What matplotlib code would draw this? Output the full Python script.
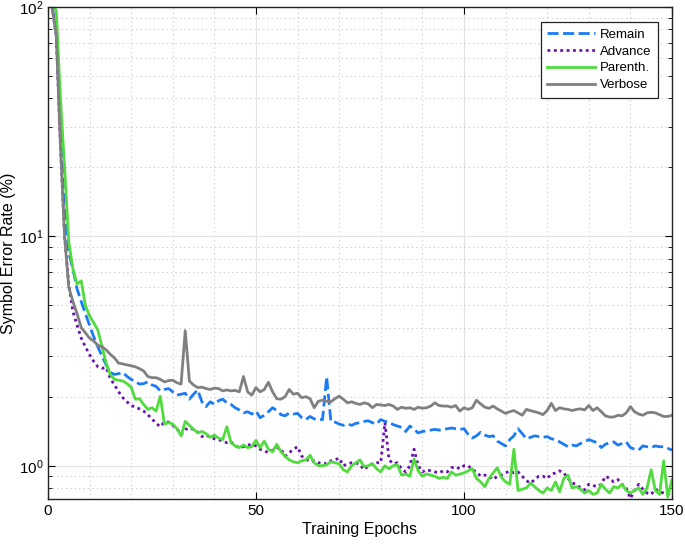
import numpy as np
import matplotlib
matplotlib.use("Agg")
import matplotlib.pyplot as plt
from matplotlib.ticker import MultipleLocator, LogLocator, NullFormatter

plt.rcParams['font.family'] = ['Liberation Sans', 'DejaVu Sans']

epochs = list(range(1, 151))

remain = [
    100, 80, 30, 13, 8.5, 7.2, 5.9, 5.2, 4.6, 4.1,
    3.65, 3.3, 3.0, 2.75, 2.55, 2.5, 2.52, 2.55, 2.45, 2.38,
    2.33, 2.27, 2.28, 2.32, 2.25, 2.22, 2.12, 2.15, 2.17, 2.1,
    2.03, 2.05, 2.07, 1.95, 2.05, 2.14, 1.9, 1.81, 1.9, 1.85,
    1.92, 1.95, 1.88, 1.85, 1.79, 1.75, 1.7, 1.72, 1.68, 1.73,
    1.62, 1.66, 1.72, 1.79, 1.74, 1.67, 1.65, 1.7, 1.68, 1.69,
    1.62, 1.59, 1.64, 1.6, 1.59, 1.59, 2.44, 1.56, 1.55, 1.52,
    1.5, 1.52, 1.5, 1.53, 1.54, 1.56, 1.57, 1.54, 1.52, 1.59,
    1.56, 1.55, 1.51, 1.49, 1.47, 1.41, 1.49, 1.44, 1.39, 1.41,
    1.42, 1.43, 1.44, 1.43, 1.44, 1.45, 1.46, 1.45, 1.44, 1.45,
    1.37, 1.32, 1.35, 1.40, 1.36, 1.34, 1.35, 1.28, 1.25, 1.22,
    1.3, 1.35, 1.45, 1.38, 1.31, 1.33, 1.35, 1.34, 1.33, 1.34,
    1.31, 1.30, 1.27, 1.24, 1.21, 1.23, 1.22, 1.25, 1.27, 1.30,
    1.28, 1.26, 1.20, 1.24, 1.26, 1.27, 1.23, 1.25, 1.27, 1.20,
    1.18, 1.17, 1.22, 1.21, 1.2, 1.22, 1.21, 1.21, 1.19, 1.17,
]

advance = [
    100, 75, 25, 10, 6.2, 4.7, 4.1, 3.6, 3.3, 3.05,
    2.85, 2.7, 2.66, 2.68, 2.4, 2.25, 2.1, 1.98, 1.9, 1.83,
    1.8, 1.77, 1.73, 1.67, 1.6, 1.53, 1.48, 1.55, 1.55, 1.5,
    1.45, 1.37, 1.44, 1.46, 1.44, 1.4, 1.34, 1.36, 1.33, 1.31,
    1.3, 1.28, 1.26, 1.27, 1.22, 1.2, 1.21, 1.23, 1.24, 1.22,
    1.18, 1.16, 1.14, 1.17, 1.2, 1.18, 1.1, 1.14, 1.18, 1.21,
    1.10, 1.07, 1.04, 1.05, 1.03, 1.03, 1.02, 1.05, 1.06, 1.08,
    1.0, 1.02, 1.03, 1.03, 1.01, 0.96, 1.0, 1.02, 1.03, 1.03,
    1.54, 1.06, 1.02, 1.03, 0.97, 0.94, 1.0, 1.18, 1.0, 0.94,
    0.96, 0.95, 0.94, 0.93, 0.95, 0.94, 0.98, 0.99, 0.97, 1.0,
    1.0, 0.96, 0.94, 0.90, 0.91, 0.9, 0.87, 0.9, 0.91, 0.93,
    0.95, 0.93, 0.94, 0.9, 0.86, 0.84, 0.87, 0.9, 0.9, 0.88,
    0.92, 0.93, 0.95, 0.93, 0.88, 0.84, 0.83, 0.80, 0.785, 0.83,
    0.82, 0.81, 0.83, 0.90, 0.88, 0.85, 0.87, 0.83, 0.80, 0.72,
    0.78, 0.83, 0.79, 0.76, 0.75, 0.79, 0.77, 0.76, 0.75, 0.77,
]

parenth = [
    100, 97, 40, 20, 9.5, 7.2, 6.2, 6.4, 5.0, 4.5,
    4.2, 3.9, 3.3, 2.8, 2.5, 2.38, 2.36, 2.34, 2.28, 2.2,
    1.95, 1.96, 1.85, 1.76, 1.79, 1.73, 2.01, 1.52, 1.54, 1.52,
    1.45, 1.35, 1.56, 1.5, 1.44, 1.39, 1.41, 1.38, 1.33, 1.36,
    1.32, 1.30, 1.48, 1.26, 1.22, 1.2, 1.23, 1.2, 1.21, 1.29,
    1.2, 1.28, 1.18, 1.15, 1.24, 1.15, 1.10, 1.06, 1.04, 1.03,
    1.05, 1.06, 1.11, 1.03, 1.0, 1.0, 1.01, 1.04, 1.03, 1.02,
    0.96, 0.94, 1.0, 1.03, 1.06, 0.99, 1.0, 1.02, 0.97, 0.94,
    1.0, 0.97, 1.0, 1.01, 0.91, 0.92, 0.9, 1.07, 0.95, 0.9,
    0.92, 0.91, 0.90, 0.88, 0.89, 0.88, 0.94, 0.91, 0.92, 0.93,
    0.95, 0.97, 0.88, 0.85, 0.81, 0.88, 0.93, 0.98, 0.89, 0.85,
    0.83, 1.18, 0.78, 0.79, 0.80, 0.84, 0.81, 0.78, 0.76, 0.80,
    0.78, 0.85, 0.77, 0.88, 0.91, 0.80, 0.81, 0.79, 0.76, 0.78,
    0.75, 0.76, 0.83, 0.79, 0.76, 0.81, 0.80, 0.83, 0.78, 0.76,
    0.78, 0.80, 0.75, 0.80, 0.96, 0.78, 0.75, 1.05, 0.73, 0.87,
]

verbose = [
    100, 75, 25, 10, 6.0, 5.2, 4.6, 4.0, 3.8, 3.6,
    3.5, 3.35, 3.3, 3.2, 3.06, 2.95, 2.8, 2.78, 2.75, 2.73,
    2.7, 2.65, 2.59, 2.45, 2.42, 2.42, 2.38, 2.32, 2.35, 2.36,
    2.3, 2.27, 3.88, 2.34, 2.25, 2.19, 2.2, 2.17, 2.15, 2.18,
    2.17, 2.12, 2.14, 2.12, 2.13, 2.1, 2.45, 2.1, 2.03, 2.19,
    2.1, 2.15, 2.31, 2.1, 1.96, 1.95, 2.0, 2.15, 2.05, 2.07,
    1.98, 2.0, 1.96, 1.79, 1.91, 1.93, 1.91, 1.9, 1.96, 2.01,
    1.95, 1.88, 1.9, 1.87, 1.85, 1.88, 1.86, 1.79, 1.85, 1.84,
    1.83, 1.85, 1.82, 1.76, 1.8, 1.78, 1.79, 1.76, 1.8, 1.78,
    1.79, 1.82, 1.88, 1.83, 1.82, 1.82, 1.8, 1.83, 1.73, 1.79,
    1.76, 1.79, 1.93, 1.86, 1.8, 1.78, 1.82, 1.77, 1.73, 1.69,
    1.72, 1.74, 1.7, 1.66, 1.76, 1.74, 1.72, 1.70, 1.67, 1.74,
    1.87, 1.74, 1.79, 1.77, 1.76, 1.74, 1.76, 1.77, 1.75, 1.83,
    1.74, 1.79, 1.72, 1.65, 1.63, 1.63, 1.66, 1.65, 1.7, 1.81,
    1.72, 1.68, 1.66, 1.7, 1.71, 1.70, 1.67, 1.64, 1.64, 1.66,
]

series_names = ["Remain", "Advance", "Parenth.", "Verbose"]
x_ticks = [0, 50, 100, 150]

fig = plt.figure(figsize=(6.85, 5.44), dpi=100)
ax = fig.add_axes([0.070, 0.083, 0.911, 0.904])

ax.plot(epochs, remain, color='#1a7cf5', lw=2.0, ls=(0, (4, 1.6)), label=series_names[0])
ax.plot(epochs, advance, color='#6a0fb0', lw=2.0, ls=(0, (1, 1.3)), label=series_names[1])
ax.plot(epochs, parenth, color='#4fdc3c', lw=2.0, ls='-', label=series_names[2])
ax.plot(epochs, verbose, color='#808080', lw=2.0, ls='-', label=series_names[3])

ax.set_yscale('log')
ax.set_xlim(0, 150)
ax.set_ylim(0.717, 100)
ax.set_xticks(x_ticks)
ax.xaxis.set_minor_locator(MultipleLocator(10))
ax.yaxis.set_major_locator(LogLocator(base=10, numticks=10))
ax.yaxis.set_minor_locator(LogLocator(base=10, subs=np.arange(2, 10), numticks=20))
ax.yaxis.set_minor_formatter(NullFormatter())

ax.grid(True, which='major', color='#e3e3e3', lw=0.8, ls='-')
ax.grid(True, which='minor', color='#cfcfcf', lw=0.7, ls=(0, (1.5, 3)))
ax.set_axisbelow(True)

ax.tick_params(which='both', direction='in', top=True, right=True, labelsize=11)
ax.tick_params(which='major', length=5, width=0.8)
ax.tick_params(which='minor', length=3, width=0.6)
ax.tick_params(axis='x', which='minor', length=0)
for s in ax.spines.values():
    s.set_linewidth(1.0)
    s.set_color('#222222')

ax.set_xlabel("Training Epochs", fontsize=11.5, labelpad=3)
ax.set_ylabel("Symbol Error Rate (%)", fontsize=11.5, labelpad=2)

leg = ax.legend(loc='upper right', bbox_to_anchor=(0.978, 0.970), borderaxespad=0,
                fontsize=9.5, fancybox=False, framealpha=1, edgecolor='#222222',
                handlelength=3.6, handletextpad=0.4, borderpad=0.5, labelspacing=0.35)
leg.get_frame().set_linewidth(0.9)

fig.savefig("out.png", dpi=100)
